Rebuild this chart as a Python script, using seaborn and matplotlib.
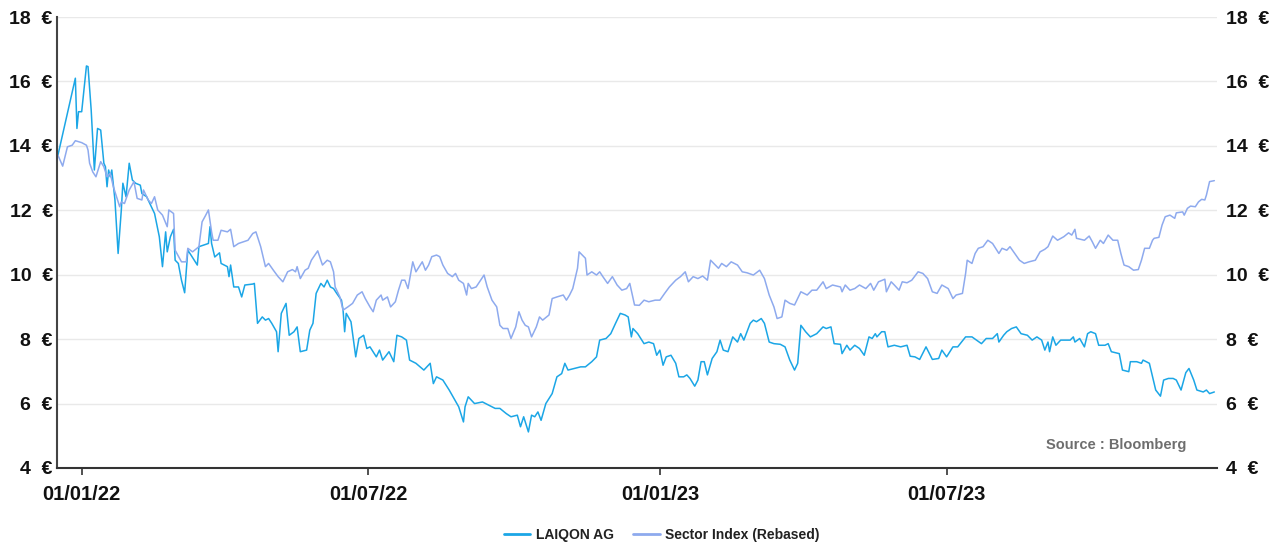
import numpy as np
import pandas as pd
import matplotlib
matplotlib.use("Agg")
import matplotlib.pyplot as plt
import matplotlib.dates as mdates
from matplotlib.ticker import FixedLocator, FuncFormatter
import seaborn as sns

# ---------------- data (days since 2022-01-01, price in EUR) ----------------
laiqon_days = [-15, -4, -3, -2, 0, 3, 4, 6, 8, 10, 12, 14, 15, 16, 17, 18, 19, 21, 23, 25,
               26, 28, 30, 32, 34, 37, 38, 41, 44, 46, 49, 51, 53, 54, 56, 58, 59, 61, 63, 65,
               67, 69, 73, 74, 80, 81, 82, 84, 87, 88, 92, 93, 94, 96, 99, 101, 103, 108, 109, 111,
               114, 116, 118, 120, 123, 124, 126, 129, 131, 134, 136, 138, 142, 144, 146, 148, 151, 153, 155, 157,
               159, 161, 164, 165, 166, 167, 170, 173, 175, 178, 180, 182, 186, 188, 190, 194, 197, 199, 202, 205,
               207, 211, 216, 220, 222, 224, 228, 232, 238, 241, 242, 244, 248, 253, 257, 261, 264, 268, 271, 275,
               277, 279, 282, 284, 286, 288, 290, 293, 297, 300, 303, 305, 307, 311, 315, 318, 322, 325, 327, 331,
               334, 337, 340, 343, 345, 347, 348, 351, 355, 358, 361, 363, 365, 367, 369, 372, 375, 377, 380, 382,
               384, 387, 389, 391, 393, 395, 398, 401, 403, 405, 408, 411, 414, 416, 418, 422, 424, 426, 429, 431,
               434, 437, 441, 444, 447, 450, 452, 454, 457, 460, 464, 468, 470, 473, 475, 479, 480, 483, 485, 488,
               491, 494, 497, 499, 501, 502, 505, 507, 509, 513, 517, 521, 523, 526, 529, 533, 537, 541, 543, 546,
               550, 553, 558, 562, 568, 571, 575, 578, 579, 582, 584, 587, 590, 593, 597, 600, 603, 606, 608, 610,
               611, 613, 615, 618, 621, 624, 626, 627, 630, 633, 635, 637, 640, 642, 646, 648, 650, 655, 657, 661,
               662, 666, 669, 670, 674, 678, 681, 683, 686, 689, 691, 694, 697, 699, 702, 704, 708, 710, 712, 715]
laiqon_price = [13.71, 16.10, 14.54, 15.06, 15.06, 16.48, 16.46, 15.11, 13.25, 14.54, 14.49, 13.46, 13.35, 12.73, 13.25, 13.04, 13.25, 12.32, 10.66, 12.00,
                12.84, 12.42, 13.46, 12.94, 12.84, 12.78, 12.52, 12.42, 12.11, 11.90, 11.18, 10.25, 11.33, 10.71, 11.18, 11.41, 10.45, 10.35, 9.83, 9.44,
                10.76, 10.61, 10.30, 10.87, 10.97, 11.49, 10.97, 10.55, 10.68, 10.35, 10.25, 9.94, 10.30, 9.62, 9.62, 9.31, 9.68, 9.71, 9.73, 8.49,
                8.69, 8.59, 8.64, 8.49, 8.23, 7.61, 8.80, 9.11, 8.12, 8.23, 8.38, 7.61, 7.66, 8.28, 8.49, 9.42, 9.73, 9.62, 9.83, 9.62,
                9.57, 9.42, 9.21, 8.90, 8.23, 8.80, 8.54, 7.45, 8.02, 8.12, 7.71, 7.76, 7.45, 7.66, 7.35, 7.61, 7.30, 8.12, 8.07, 7.97,
                7.35, 7.25, 7.04, 7.25, 6.62, 6.83, 6.73, 6.42, 5.90, 5.43, 5.90, 6.21, 6.00, 6.05, 5.95, 5.85, 5.85, 5.69, 5.59, 5.64,
                5.28, 5.59, 5.12, 5.64, 5.59, 5.74, 5.48, 6.00, 6.31, 6.83, 6.93, 7.25, 7.04, 7.09, 7.14, 7.14, 7.30, 7.45, 7.97, 8.02,
                8.17, 8.49, 8.80, 8.75, 8.69, 8.07, 8.33, 8.17, 7.86, 7.91, 7.86, 7.50, 7.66, 7.19, 7.45, 7.50, 7.25, 6.83, 6.83, 6.89,
                6.78, 6.54, 6.73, 7.30, 7.30, 6.89, 7.40, 7.61, 7.97, 7.66, 7.61, 8.07, 7.91, 8.17, 7.97, 8.49, 8.59, 8.54, 8.64, 8.49,
                7.91, 7.86, 7.84, 7.76, 7.35, 7.04, 7.25, 8.43, 8.23, 8.07, 8.17, 8.38, 8.33, 8.38, 7.86, 7.84, 7.55, 7.81, 7.66, 7.81,
                7.71, 7.50, 8.07, 8.02, 8.17, 8.07, 8.23, 8.23, 7.76, 7.81, 7.76, 7.81, 7.47, 7.45, 7.37, 7.76, 7.37, 7.40, 7.66, 7.45,
                7.76, 7.76, 8.07, 8.07, 7.86, 8.02, 8.02, 8.17, 7.91, 8.12, 8.23, 8.33, 8.38, 8.17, 8.12, 7.97, 8.07, 7.97, 7.66, 7.91,
                7.61, 8.07, 7.81, 7.97, 7.97, 7.97, 8.07, 7.91, 8.02, 7.76, 8.17, 8.23, 8.17, 7.81, 7.81, 7.86, 7.61, 7.55, 7.04, 6.99,
                7.30, 7.30, 7.25, 7.35, 7.25, 6.42, 6.23, 6.73, 6.78, 6.78, 6.73, 6.42, 6.96, 7.09, 6.73, 6.42, 6.36, 6.42, 6.31, 6.36]

sector_days = [-15, -12, -9, -6, -4, 0, 3, 4, 5, 7, 9, 12, 14, 16, 18, 20, 22, 24, 25, 27,
               30, 33, 35, 38, 39, 42, 44, 46, 48, 51, 54, 55, 58, 59, 63, 66, 67, 70, 74, 76,
               78, 80, 82, 83, 86, 88, 92, 94, 96, 99, 102, 105, 108, 110, 113, 116, 118, 121, 124, 127,
               130, 133, 135, 136, 138, 141, 143, 145, 149, 152, 155, 157, 159, 160, 163, 165, 168, 171, 174, 177,
               179, 182, 184, 186, 189, 190, 193, 195, 198, 200, 202, 204, 206, 209, 211, 215, 217, 219, 221, 224,
               226, 228, 231, 234, 236, 238, 241, 243, 244, 246, 249, 254, 256, 259, 262, 264, 266, 269, 271, 274,
               276, 278, 280, 282, 284, 287, 289, 291, 295, 297, 300, 304, 306, 308, 310, 313, 314, 316, 318, 319,
               322, 325, 327, 329, 332, 335, 338, 341, 344, 346, 349, 352, 355, 358, 362, 365, 368, 371, 375, 378,
               381, 383, 386, 389, 392, 395, 397, 400, 402, 404, 407, 410, 414, 417, 420, 424, 428, 431, 434, 437,
               439, 442, 444, 447, 450, 454, 458, 461, 464, 468, 470, 474, 479, 480, 482, 485, 488, 491, 495, 498,
               500, 503, 507, 508, 511, 513, 516, 518, 521, 524, 528, 531, 534, 537, 540, 543, 547, 550, 552, 556,
               558, 559, 562, 564, 566, 569, 572, 575, 579, 581, 584, 586, 589, 592, 595, 598, 602, 605, 608, 610,
               613, 616, 620, 623, 625, 627, 628, 633, 636, 638, 640, 643, 645, 648, 651, 654, 656, 658, 661, 664,
               667, 669, 671, 674, 676, 677, 680, 682, 684, 687, 690, 691, 695, 696, 698, 700, 703, 705, 707, 709,
               710, 711, 712, 715]
sector_price = [13.71, 13.37, 13.97, 14.02, 14.16, 14.10, 14.02, 13.87, 13.46, 13.19, 13.04, 13.51, 13.35, 13.04, 13.15, 12.73, 12.42, 12.11, 12.26, 12.21,
                12.63, 12.89, 12.37, 12.32, 12.63, 12.32, 12.21, 12.42, 12.01, 11.85, 11.49, 12.01, 11.90, 10.76, 10.40, 10.40, 10.82, 10.71, 10.87, 11.64,
                11.82, 12.01, 11.33, 11.07, 11.07, 11.38, 11.33, 11.41, 10.87, 10.97, 11.02, 11.07, 11.28, 11.33, 10.87, 10.25, 10.35, 10.14, 9.94, 9.78,
                10.09, 10.16, 10.09, 10.25, 9.88, 10.14, 10.20, 10.45, 10.74, 10.30, 10.45, 10.40, 10.09, 9.62, 9.31, 8.90, 9.00, 9.11, 9.37, 9.47,
                9.26, 9.00, 8.85, 9.21, 9.37, 9.21, 9.31, 9.00, 9.16, 9.52, 9.83, 9.83, 9.57, 10.40, 10.09, 10.40, 10.14, 10.30, 10.56, 10.61,
                10.56, 10.30, 10.04, 9.94, 10.04, 9.83, 9.73, 9.37, 9.73, 9.57, 9.62, 9.99, 9.62, 9.21, 9.00, 8.43, 8.33, 8.33, 8.02, 8.38,
                8.85, 8.59, 8.43, 8.38, 8.07, 8.38, 8.69, 8.59, 8.75, 9.26, 9.31, 9.37, 9.21, 9.37, 9.57, 10.20, 10.71, 10.61, 10.51, 9.99,
                10.09, 9.99, 10.09, 9.94, 9.73, 9.94, 9.68, 9.52, 9.57, 9.73, 9.06, 9.05, 9.21, 9.16, 9.21, 9.21, 9.42, 9.62, 9.83, 9.94,
                10.09, 9.78, 9.94, 9.88, 9.96, 9.83, 10.45, 10.30, 10.20, 10.35, 10.25, 10.40, 10.30, 10.09, 10.06, 9.99, 10.14, 9.88, 9.37, 9.00,
                8.64, 8.69, 9.21, 9.11, 9.06, 9.47, 9.37, 9.52, 9.52, 9.78, 9.57, 9.68, 9.62, 9.47, 9.68, 9.52, 9.57, 9.68, 9.57, 9.73,
                9.52, 9.78, 9.86, 9.47, 9.78, 9.68, 9.52, 9.78, 9.75, 9.83, 10.09, 10.04, 9.88, 9.47, 9.42, 9.68, 9.57, 9.26, 9.37, 9.42,
                10.04, 10.45, 10.35, 10.66, 10.82, 10.87, 11.07, 10.97, 10.66, 10.82, 10.76, 10.87, 10.66, 10.45, 10.35, 10.40, 10.45, 10.71, 10.79, 10.87,
                11.20, 11.07, 11.18, 11.30, 11.23, 11.41, 11.13, 11.07, 11.20, 11.02, 10.82, 11.07, 10.97, 11.23, 11.07, 11.07, 10.66, 10.30, 10.25, 10.14,
                10.16, 10.45, 10.82, 10.82, 11.07, 11.13, 11.16, 11.54, 11.80, 11.85, 11.75, 11.92, 11.95, 11.85, 12.06, 12.13, 12.11, 12.26, 12.34, 12.32,
                12.47, 12.68, 12.89, 12.92]

series_names = ["LAIQON AG", "Sector Index (Rebased)"]
series_colors = ["#1ba6e6", "#8eaaee"]
y_ticks = [4, 6, 8, 10, 12, 14, 16, 18]
x_tick_dates = ["2022-01-01", "2022-07-01", "2023-01-01", "2023-07-01"]
source_text = "Source : Bloomberg"

# ---------------- build frame ----------------
base = pd.Timestamp("2022-01-01")
df = pd.concat([
    pd.DataFrame({"date": base + pd.to_timedelta(laiqon_days, unit="D"),
                  "price": laiqon_price, "series": series_names[0]}),
    pd.DataFrame({"date": base + pd.to_timedelta(sector_days, unit="D"),
                  "price": sector_price, "series": series_names[1]}),
], ignore_index=True)

sns.set_style("white")
plt.rcParams["font.family"] = ["Liberation Sans", "DejaVu Sans"]

fig = plt.figure(figsize=(12.84, 5.49), dpi=100)
ax = fig.add_axes([57 / 1284, 1 - 468 / 549, (1216.7 - 57) / 1284, (468 - 17) / 549])

sns.lineplot(data=df, x="date", y="price", hue="series", hue_order=series_names,
             palette=series_colors, linewidth=1.1, legend=False, ax=ax, estimator=None,
             sort=False)

ax.set_xlim(pd.Timestamp("2021-12-16 10:00"), pd.Timestamp("2023-12-18 12:00"))
ax.set_ylim(4, 18)
ax.set_xlabel("")
ax.set_ylabel("")

# grid
ax.yaxis.set_major_locator(FixedLocator(y_ticks))
ax.grid(axis="y", color="#e9e9e9", linewidth=1.0)
ax.grid(axis="x", visible=False)
ax.set_axisbelow(True)

fmt = FuncFormatter(lambda v, p: f"{v:.0f}  €")
ax.yaxis.set_major_formatter(fmt)
ax.tick_params(axis="y", length=0, pad=3, labelsize=14, labelcolor="#111111")
for lab in ax.get_yticklabels():
    lab.set_fontweight("bold")

ax.set_xticks([pd.Timestamp(d) for d in x_tick_dates])
ax.xaxis.set_major_formatter(mdates.DateFormatter("%d/%m/%y"))
ax.tick_params(axis="x", length=5, width=1.2, color="#333333", pad=7,
               labelsize=14.5, labelcolor="#111111", bottom=True)
for lab in ax.get_xticklabels():
    lab.set_fontweight("bold")

for s in ["top", "right"]:
    ax.spines[s].set_visible(False)
ax.spines["left"].set_color("#444444")
ax.spines["left"].set_linewidth(1.5)
ax.spines["bottom"].set_color("#333333")
ax.spines["bottom"].set_linewidth(1.5)

# right-side labels
ax2 = ax.twinx()
ax2.set_ylim(4, 18)
ax2.yaxis.set_major_locator(FixedLocator(y_ticks))
ax2.yaxis.set_major_formatter(fmt)
ax2.tick_params(axis="y", length=0, pad=7, labelsize=14, labelcolor="#111111")
for lab in ax2.get_yticklabels():
    lab.set_fontweight("bold")
for s in ax2.spines.values():
    s.set_visible(False)
ax2.grid(False)

# source
ax.text(1186 / 1284, 1 - 445 / 549, source_text, transform=fig.transFigure,
        ha="right", va="center", fontsize=10.5, fontweight="bold", color="#6e6e6e")

# legend
handles = ax.get_lines()[:2]
fig.legend(handles, series_names, loc="center", bbox_to_anchor=(662 / 1284, 1 - 535 / 549),
           ncol=2, frameon=False, handlelength=1.9, columnspacing=1.4, handletextpad=0.4,
           prop={"size": 10, "weight": "bold"}, labelcolor="#222222")
for h in fig.legends[0].get_lines():
    h.set_linewidth(2.0)

fig.savefig("out.png", dpi=100)
